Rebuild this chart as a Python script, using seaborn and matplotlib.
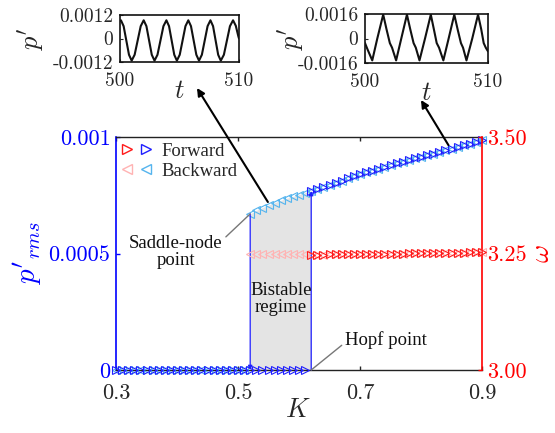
import matplotlib
matplotlib.use("Agg")
import matplotlib.pyplot as plt
import seaborn as sns
import numpy as np
from matplotlib.lines import Line2D
from matplotlib.legend_handler import HandlerTuple

# ---------------- data ----------------
K = [0.30, 0.31, 0.32, 0.33, 0.34, 0.35, 0.36, 0.37, 0.38, 0.39,
     0.40, 0.41, 0.42, 0.43, 0.44, 0.45, 0.46, 0.47, 0.48, 0.49,
     0.50, 0.51, 0.52, 0.53, 0.54, 0.55, 0.56, 0.57, 0.58, 0.59,
     0.60, 0.61, 0.62, 0.63, 0.64, 0.65, 0.66, 0.67, 0.68, 0.69,
     0.70, 0.71, 0.72, 0.73, 0.74, 0.75, 0.76, 0.77, 0.78, 0.79,
     0.80, 0.81, 0.82, 0.83, 0.84, 0.85, 0.86, 0.87, 0.88, 0.89, 0.90]

nan = float("nan")
p_forward = [0.0] * 32 + [
    0.000768, 0.000777, 0.000786, 0.000795, 0.000804, 0.000813, 0.000822, 0.000831, 0.000840,
    0.000848, 0.000856, 0.000864, 0.000872, 0.000880, 0.000887, 0.000894, 0.000901, 0.000908, 0.000915,
    0.000922, 0.000929, 0.000936, 0.000943, 0.000950, 0.000957, 0.000964, 0.000971, 0.000978, 0.000985]
p_backward = [0.0] * 22 + [
    0.000670, 0.000685, 0.000697, 0.000708, 0.000718, 0.000728, 0.000737, 0.000745, 0.000753, 0.000761,
    0.000768, 0.000777, 0.000786, 0.000795, 0.000804, 0.000813, 0.000822, 0.000831, 0.000840,
    0.000848, 0.000856, 0.000864, 0.000872, 0.000880, 0.000887, 0.000894, 0.000901, 0.000908, 0.000915,
    0.000922, 0.000929, 0.000936, 0.000943, 0.000950, 0.000957, 0.000964, 0.000971, 0.000978, 0.000985]
omega_forward = [nan] * 32 + [
    3.247, 3.247, 3.247, 3.248, 3.248, 3.248, 3.248, 3.249, 3.249, 3.249,
    3.249, 3.250, 3.250, 3.250, 3.250, 3.250, 3.251, 3.251, 3.251, 3.251,
    3.251, 3.252, 3.252, 3.252, 3.252, 3.252, 3.253, 3.253, 3.253]
omega_backward = [nan] * 22 + [
    3.249, 3.249, 3.249, 3.249, 3.249, 3.249, 3.249, 3.249, 3.249, 3.249,
    3.247, 3.247, 3.247, 3.248, 3.248, 3.248, 3.248, 3.249, 3.249, 3.249,
    3.249, 3.250, 3.250, 3.250, 3.250, 3.250, 3.251, 3.251, 3.251, 3.251,
    3.251, 3.252, 3.252, 3.252, 3.252, 3.252, 3.253, 3.253, 3.253]

K_ticks = [0.3, 0.5, 0.7, 0.9]
K_ticklabels = ["0.3", "0.5", "0.7", "0.9"]
p_ticks = [0.0, 0.0005, 0.001]
p_ticklabels = ["0", "0.0005", "0.001"]
w_ticks = [3.0, 3.25, 3.5]
w_ticklabels = ["3.00", "3.25", "3.50"]

# inset time series (left: near saddle-node point, right: K = 0.9)
t_left = [500.00, 500.08, 500.305, 500.53, 500.755, 500.98, 501.23, 501.485, 501.74, 501.99,
          502.22, 502.445, 502.67, 502.90, 503.15, 503.40, 503.65, 503.90, 504.12, 504.34,
          504.56, 504.78, 505.02, 505.26, 505.50, 505.74, 505.965, 506.19, 506.415, 506.64,
          506.88, 507.12, 507.36, 507.60, 507.82, 508.035, 508.25, 508.47, 508.73, 508.985,
          509.24, 509.50, 509.73, 509.95, 510.00]
p_left = [0.00090, 0.00093, 0.00063, -0.00010, -0.00083, -0.00113, -0.00083, -0.00010, 0.00063, 0.00093,
          0.00063, -0.00010, -0.00083, -0.00113, -0.00083, -0.00010, 0.00063, 0.00093, 0.00063, -0.00010,
          -0.00083, -0.00113, -0.00083, -0.00010, 0.00063, 0.00093, 0.00063, -0.00010, -0.00083, -0.00113,
          -0.00083, -0.00010, 0.00063, 0.00093, 0.00063, -0.00010, -0.00083, -0.00113, -0.00083, -0.00010,
          0.00063, 0.00093, 0.00065, 0.00010, 0.00000]
t_right = [500.00, 500.20, 500.59, 501.00, 501.48, 501.75, 502.02, 502.20, 502.53, 502.95,
           503.41, 503.68, 503.95, 504.13, 504.43, 504.88, 505.35, 505.60, 505.83, 506.02,
           506.37, 506.80, 507.26, 507.53, 507.80, 507.97, 508.25, 508.72, 509.19, 509.45,
           509.65, 509.82, 510.00]
p_right = [-0.00030, -0.00070, -0.00143, 0.00000, 0.00156, 0.00060, -0.00030, -0.00060, -0.00143, 0.00000,
           0.00156, 0.00060, -0.00030, -0.00060, -0.00143, 0.00000, 0.00156, 0.00060, -0.00030, -0.00060,
           -0.00143, 0.00000, 0.00156, 0.00060, -0.00030, -0.00060, -0.00143, 0.00000, 0.00156, 0.00060,
           -0.00030, -0.00060, -0.00084]

# ---------------- style ----------------
sns.set_style("ticks")
plt.rcParams["font.family"] = ["Liberation Serif", "DejaVu Serif"]
plt.rcParams["mathtext.fontset"] = "cm"

c_blue = "#1f1fff"
c_lblue = "#55b4ee"
c_red = "#ff1a1a"
c_pink = "#ffb3b3"
ax_blue = "#0000ff"
ax_red = "#ff0000"

W, H = 555, 433
fig = plt.figure(figsize=(W / 100, H / 100), dpi=100)
ax = fig.add_axes([116 / W, 1 - 370 / H, 366 / W, 233 / H])
ax2 = ax.twinx()
ax2.set_position([116 / W, 1 - 370 / H, 366 / W, 233 / H])

mk = dict(linestyle="", markerfacecolor="none", markersize=5.5, markeredgewidth=0.8, clip_on=False)

# bistable region
ax.fill_between(K[22:33], 0, p_backward[22:33], color="#e4e4e4", zorder=1, lw=0)

sns.lineplot(x=K, y=p_backward, ax=ax, marker="<", color=c_lblue, markeredgecolor=c_lblue, zorder=3, **mk)
sns.lineplot(x=K, y=p_forward, ax=ax, marker=">", color=c_blue, markeredgecolor=c_blue, zorder=4, **mk)
sns.lineplot(x=K, y=omega_backward, ax=ax2, marker="<", color=c_pink, markeredgecolor=c_pink, zorder=3, **mk)
sns.lineplot(x=K, y=omega_forward, ax=ax2, marker=">", color=c_red, markeredgecolor=c_red, zorder=4, **mk)

# jump arrows
ax.annotate("", xy=(0.62, p_forward[32]), xytext=(0.62, 0.0),
            arrowprops=dict(arrowstyle="-|>", color=c_blue, lw=0.9, mutation_scale=6, shrinkA=0, shrinkB=0), zorder=5)
ax.annotate("", xy=(0.52, 0.0), xytext=(0.52, p_backward[22]),
            arrowprops=dict(arrowstyle="-|>", color=c_blue, lw=0.9, mutation_scale=6, shrinkA=0, shrinkB=0), zorder=5)

ax.set_xlim(0.3, 0.9)
ax.set_ylim(0, 0.001)
ax2.set_ylim(3.0, 3.5)

ax.set_xticks(K_ticks)
ax.set_xticklabels(K_ticklabels, fontfamily="cmr10", fontsize=16)
ax.set_yticks(p_ticks)
ax.set_yticklabels(p_ticklabels, fontfamily="cmr10", fontsize=16, color=ax_blue)
ax2.set_yticks(w_ticks)
ax2.set_yticklabels(w_ticklabels, fontfamily="cmr10", fontsize=16, color=ax_red)
ax2.set_xticks(K_ticks)

ax.tick_params(axis="x", direction="in", length=3, top=True, pad=10, width=1)
ax.tick_params(axis="y", direction="in", length=3, colors=ax_blue, pad=4, width=1)
ax2.tick_params(axis="y", direction="in", length=3, colors=ax_red, pad=4, width=1)

for s in ["top", "bottom"]:
    ax.spines[s].set_color("#222222")
    ax.spines[s].set_linewidth(1.0)
ax.spines["left"].set_color(ax_blue)
ax.spines["left"].set_linewidth(1.2)
ax.spines["right"].set_visible(False)
ax2.spines["right"].set_color(ax_red)
ax2.spines["right"].set_linewidth(1.2)
for s in ["left", "top", "bottom"]:
    ax2.spines[s].set_visible(False)

ax.set_xlabel(r"$K$", fontsize=19)
ax.xaxis.set_label_coords(0.497, -0.172)
ax.xaxis.label.set_va("center")
ax.set_ylabel(r"$p'_{rms}$", fontsize=21, color=ax_blue)
ax.yaxis.set_label_coords(-0.243, 0.5)
ax.yaxis.label.set_va("center")
ax2.set_ylabel(r"$\omega$", fontsize=20, color=ax_red)
ax2.yaxis.set_label_coords(1.165, 0.5)
ax2.yaxis.label.set_va("center")

# legend
h_f = (Line2D([], [], marker=">", ls="", mfc="none", mec=c_red, ms=6.5, mew=1.0),
       Line2D([], [], marker=">", ls="", mfc="none", mec=c_blue, ms=6.5, mew=1.0))
h_b = (Line2D([], [], marker="<", ls="", mfc="none", mec=c_pink, ms=6.5, mew=1.0),
       Line2D([], [], marker="<", ls="", mfc="none", mec=c_lblue, ms=6.5, mew=1.0))
ax2.legend([h_f, h_b], ["Forward", "Backward"],
           handler_map={tuple: HandlerTuple(ndivide=None, pad=0.5)},
           loc="upper left", frameon=False, prop={"family": "Liberation Serif", "size": 13.5},
           handlelength=1.6, handletextpad=0.5, borderaxespad=0.1, borderpad=0.2, labelspacing=0.15)

# annotations
txt_kw = dict(fontsize=13.5, family="Liberation Serif", color="#111111")
ax.annotate("Saddle-node\npoint", xy=(0.52, p_backward[22]), xytext=(0.398, 0.000506),
            ha="center", va="center", multialignment="center", linespacing=1.05,
            arrowprops=dict(arrowstyle="-", color="#777777", lw=1.0, shrinkA=0, shrinkB=0, relpos=(1.0, 0.85)),
            zorder=6, **txt_kw)
ax.text(0.5705, 0.000305, "Bistable\nregime", ha="center", va="center", multialignment="center",
        linespacing=1.05, zorder=6, **txt_kw)
ax.annotate("Hopf point", xy=(0.62, 0.0), xytext=(0.6754, 0.000129),
            ha="left", va="center",
            arrowprops=dict(arrowstyle="-", color="#777777", lw=1.0, shrinkA=0, shrinkB=0, relpos=(0.0, 0.35)),
            zorder=6, annotation_clip=False, **txt_kw)

# arrows to insets
ax.annotate("", xy=(197 / W, 1 - 88 / H), xycoords="figure fraction",
            xytext=(0.549, 0.000721), textcoords="data",
            arrowprops=dict(arrowstyle="-|>", color="k", lw=1.5, mutation_scale=11, shrinkA=0, shrinkB=0),
            annotation_clip=False, zorder=7)
ax.annotate("", xy=(421 / W, 1 - 100 / H), xycoords="figure fraction",
            xytext=(0.845, 0.000965), textcoords="data",
            arrowprops=dict(arrowstyle="-|>", color="k", lw=1.5, mutation_scale=11, shrinkA=0, shrinkB=0),
            annotation_clip=False, zorder=7)

# insets
def make_inset(rect, t, p, lim, labels, ylab_x):
    a = fig.add_axes(rect)
    sns.lineplot(x=t, y=p, ax=a, color="#111111", lw=1.5)
    a.set_xlim(500, 510)
    a.set_ylim(-lim, lim)
    a.set_xticks([500, 510])
    a.set_xticklabels(["500", "510"], fontfamily="cmr10", fontsize=14)
    a.set_yticks([-lim, 0, lim])
    a.set_yticklabels(labels, fontfamily="cmr10", fontsize=14)
    a.tick_params(axis="x", direction="in", length=2, pad=7, width=0.8)
    a.tick_params(axis="y", direction="in", length=2, pad=5, width=0.8)
    for s in a.spines.values():
        s.set_linewidth(1.2)
        s.set_color("#111111")
    a.set_xlabel(r"$t$", fontsize=19)
    a.xaxis.set_label_coords(0.5, -0.64)
    a.xaxis.label.set_va("center")
    a.set_ylabel(r"$p'$", fontsize=19)
    a.yaxis.set_label_coords(ylab_x, 0.5)
    a.yaxis.label.set_va("center")
    return a

make_inset([120 / W, 1 - 62 / H, 119 / W, 47 / H], t_left, p_left, 0.0012,
           ["-0.0012", "0", "0.0012"], -0.75)
make_inset([365 / W, 1 - 63 / H, 123 / W, 49 / H], t_right, p_right, 0.0016,
           ["-0.0016", "0", "0.0016"], -0.60)

fig.savefig("out.png", dpi=100)
